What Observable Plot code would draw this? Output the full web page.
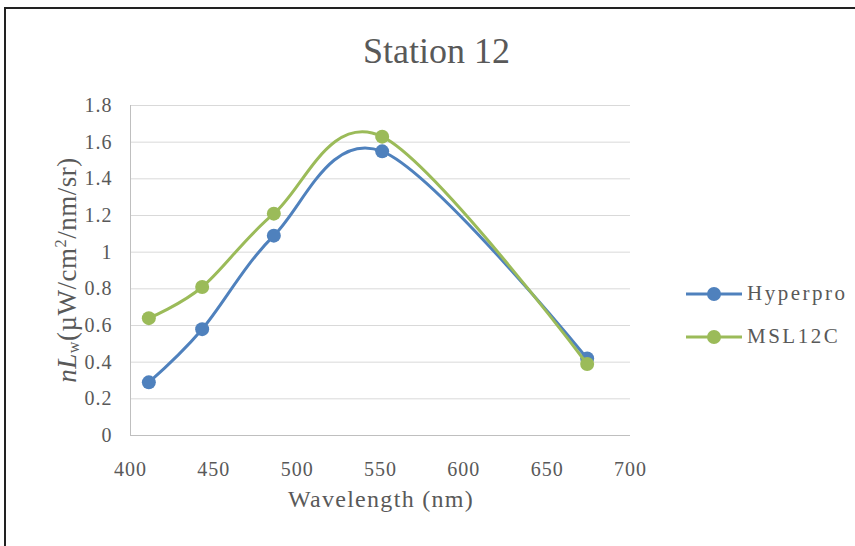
<!DOCTYPE html>
<html>
<head>
<meta charset="utf-8">
<script src="https://cdn.jsdelivr.net/npm/d3@7"></script>
<script src="https://cdn.jsdelivr.net/npm/@observablehq/plot@0.6"></script>
<style>
  html, body { margin: 0; padding: 0; background: #fff; }
  #wrap { position: relative; width: 855px; height: 546px; overflow: hidden; font-family: "Liberation Serif", "Times New Roman", serif; color: #595959; }
  #frame { position: absolute; left: 4px; top: 7px; width: 900px; height: 600px; border-top: 2px solid #222; border-left: 2px solid #222; box-sizing: border-box; }
  #chart { position: absolute; left: 0; top: 0; }
  #title { position: absolute; left: 0; width: 873px; top: 30px; text-align: center; font-size: 36px; }
  #ylabel { position: absolute; left: 68px; top: 270px; transform: translate(-50%, -50%) rotate(-90deg); white-space: nowrap; font-size: 27px; letter-spacing: 0.5px; }
  #ylabel sub { font-size: 0.6em; vertical-align: -0.2em; }
  #ylabel sup { font-size: 0.6em; vertical-align: 0.6em; }
  #legend { position: absolute; left: 686px; top: 272px; font-size: 21px; letter-spacing: 2.5px; }
  .item { display: flex; align-items: center; height: 43px; }
  .item svg { margin-right: 5px; }
</style>
</head>
<body>
<div id="wrap">
  <div id="frame"></div>
  <div id="chart"></div>
  <div id="title"></div>
  <div id="ylabel"><i>n</i><i>L</i><sub>w</sub>(µW/cm<sup>2</sup>/nm/sr)</div>
  <div id="legend"></div>
</div>
<script>
const titleText = "Station 12";
const xLabel = "Wavelength (nm)";
const wavelengths = [411, 443, 486, 551, 674];
const hyperpro = [0.29, 0.58, 1.09, 1.55, 0.42];
const msl12c = [0.64, 0.81, 1.21, 1.63, 0.39];
const seriesNames = ["Hyperpro", "MSL12C"];
const seriesColors = ["#4f81bd", "#9bbb59"];
const xTicks = [400, 450, 500, 550, 600, 650, 700];
const yTicks = [0, 0.2, 0.4, 0.6, 0.8, 1, 1.2, 1.4, 1.6, 1.8];
const yTickLabels = ["0", "0.2", "0.4", "0.6", "0.8", "1", "1.2", "1.4", "1.6", "1.8"];

const seriesValues = [hyperpro, msl12c];
const data = [];
seriesNames.forEach((name, s) => {
  wavelengths.forEach((w, i) => data.push({series: name, x: w, y: seriesValues[s][i]}));
});

const seriesMarks = [];
seriesNames.forEach((name, s) => {
  const d = data.filter(r => r.series === name);
  seriesMarks.push(Plot.line(d, {x: "x", y: "y", stroke: seriesColors[s], strokeWidth: 3, curve: "cardinal"}));
  seriesMarks.push(Plot.dot(d, {x: "x", y: "y", fill: seriesColors[s], r: 7}));
});

const chart = Plot.plot({
  width: 855,
  height: 546,
  marginLeft: 130,
  marginRight: 225,
  marginTop: 105,
  marginBottom: 111,
  style: {fontFamily: "Liberation Serif, Times New Roman, serif", fontSize: "20px", color: "#595959", background: "transparent", letterSpacing: "1px"},
  x: {domain: [400, 700], ticks: xTicks, label: null},
  y: {domain: [0, 1.8], ticks: yTicks, label: null},
  marks: [
    Plot.gridY(yTicks, {stroke: "#d9d9d9", strokeOpacity: 1, strokeWidth: 1}),
    Plot.ruleX([400], {stroke: "#bfbfbf", strokeWidth: 1}),
    Plot.ruleY([0], {stroke: "#bfbfbf", strokeWidth: 1}),
    Plot.axisX({ticks: xTicks, tickSize: 0, tickPadding: 26, fontSize: 20, fill: "#595959", label: null}),
    Plot.axisY({ticks: yTicks, tickSize: 0, tickPadding: 18, fontSize: 20, fill: "#595959", label: null,
      tickFormat: v => yTickLabels[yTicks.indexOf(v)] ?? String(v)}),
    ...seriesMarks
  ]
});
document.getElementById("chart").appendChild(chart);
document.getElementById("title").textContent = titleText;

const xl = document.createElement("div");
xl.textContent = xLabel;
xl.style.cssText = "position:absolute;left:130px;width:502px;top:486px;text-align:center;font-size:24px;letter-spacing:1.3px;";
document.getElementById("wrap").appendChild(xl);

const legend = document.getElementById("legend");
seriesNames.forEach((name, s) => {
  const item = document.createElement("div");
  item.className = "item";
  item.innerHTML = `<svg width="56" height="16"><line x1="0" y1="8" x2="56" y2="8" stroke="${seriesColors[s]}" stroke-width="3"/><circle cx="28" cy="8" r="7" fill="${seriesColors[s]}"/></svg><span></span>`;
  item.querySelector("span").textContent = name;
  legend.appendChild(item);
});
</script>
</body>
</html>
